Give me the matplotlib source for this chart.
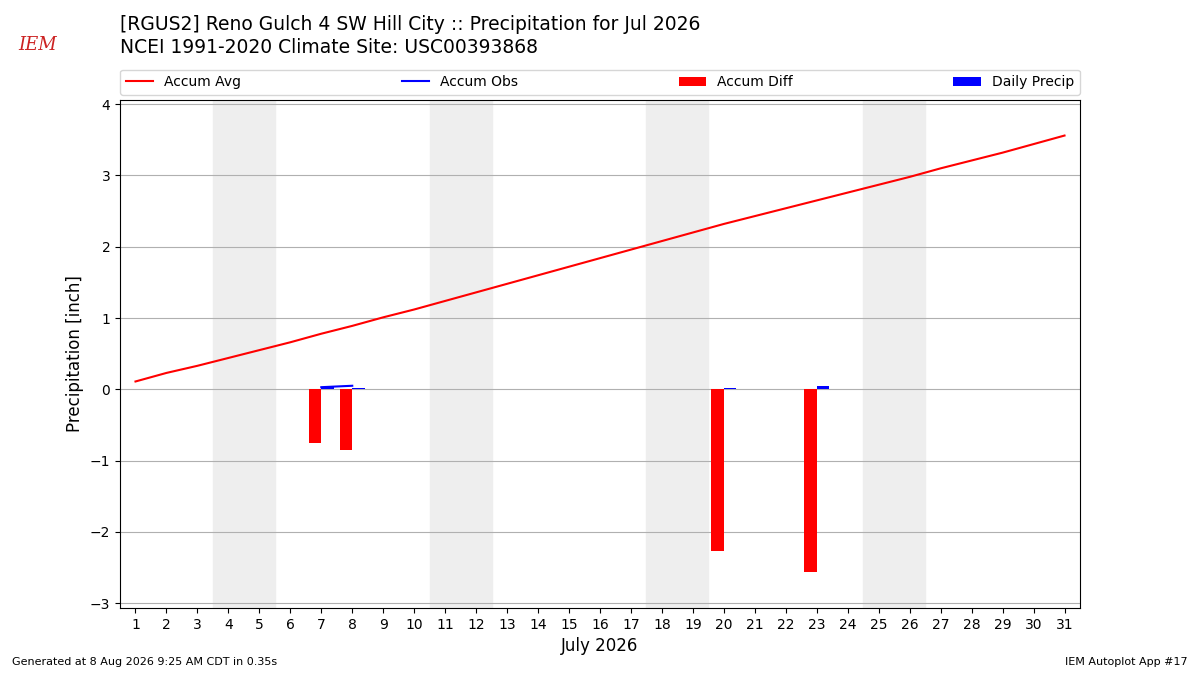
import numpy as np
import matplotlib.pyplot as plt

days = np.arange(1, 32)
accum_avg = [0.11, 0.23, 0.33, 0.44, 0.55, 0.66, 0.78, 0.89, 1.01, 1.12,
             1.24, 1.36, 1.48, 1.60, 1.72, 1.84, 1.96, 2.08, 2.20, 2.32,
             2.43, 2.54, 2.65, 2.76, 2.87, 2.98, 3.10, 3.21, 3.32, 3.44, 3.56]
obs_days = [7, 8, 20, 23]
accum_obs = [0.03, 0.05, 0.06, 0.10]
daily_precip = [0.03, 0.02, 0.02, 0.04]
accum_diff = [-0.75, -0.85, -2.27, -2.56]
weekends = [4, 11, 18, 25]

fig = plt.figure(figsize=(12, 6.75), dpi=100)
ax = fig.add_axes([0.1, 0.099, 0.8, 0.753])

for d in weekends:
    ax.axvspan(d - 0.5, d + 1.5, color="#eeeeee", zorder=0)

ax.plot(days, accum_avg, color="r", lw=1.5, label="Accum Avg", zorder=3)
# obs line is only continuous on consecutive days
obs_line = np.full(len(days), np.nan)
for d, v in zip(obs_days, accum_obs):
    obs_line[d - 1] = v
ax.plot(days, obs_line, color="b", lw=1.5, label="Accum Obs", zorder=3)
ax.bar(obs_days, accum_diff, width=-0.4, align="edge", color="r",
       label="Accum Diff", zorder=2)
ax.bar(obs_days, daily_precip, width=0.4, align="edge", color="b",
       label="Daily Precip", zorder=2)

ax.set_xlim(0.5, 31.5)
ax.set_ylim(-3.07, 4.06)
ax.set_xticks(days)
ax.set_yticks(range(-3, 5))
ax.yaxis.grid(True, color="#b0b0b0", lw=0.8)
ax.set_axisbelow(True)
ax.set_xlabel("July 2026", fontsize=12)
ax.set_ylabel("Precipitation [inch]", fontsize=12)
ax.tick_params(labelsize=10)

ax.legend(loc="lower left", bbox_to_anchor=(0, 1.01, 1, 0.102), ncol=4,
          mode="expand", borderaxespad=0, fontsize=10)

fig.text(0.1, 0.963, "[RGUS2] Reno Gulch 4 SW Hill City :: Precipitation for Jul 2026",
         fontsize=13.5, va="center")
fig.text(0.1, 0.929, "NCEI 1991-2020 Climate Site: USC00393868",
         fontsize=13.5, va="center")
fig.text(0.01, 0.015, "Generated at 8 Aug 2026 9:25 AM CDT in 0.35s", fontsize=8)
fig.text(0.99, 0.015, "IEM Autoplot App #17", fontsize=8, ha="right")
fig.text(0.031, 0.933, "IEM", fontsize=13, color="#cc2222", style="italic",
         family="serif", ha="center", va="center")

fig.savefig("out.png", dpi=100)
